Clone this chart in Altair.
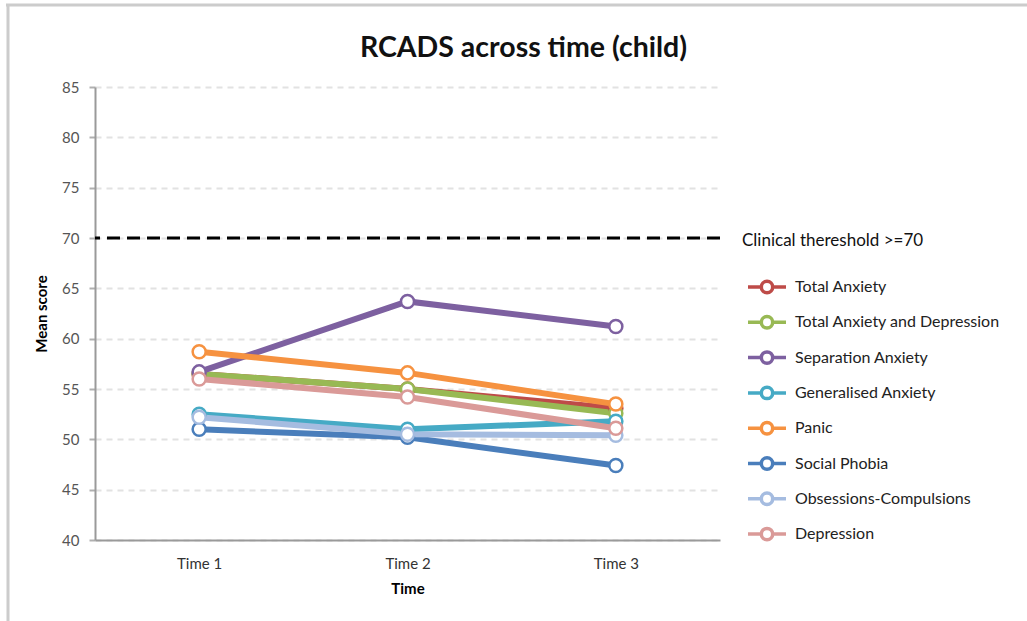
import altair as alt
import pandas as pd

# Time points and RCADS subscale means (child report)
times = ["Time 1", "Time 2", "Time 3"]
series = [
    "Total Anxiety",
    "Total Anxiety and Depression",
    "Separation Anxiety",
    "Generalised Anxiety",
    "Panic",
    "Social Phobia",
    "Obsessions-Compulsions",
    "Depression",
]
total_anxiety = [56.5, 55.0, 53.1]
total_anx_dep = [56.5, 55.0, 52.6]
separation_anxiety = [56.7, 63.7, 61.2]
generalised_anxiety = [52.5, 51.0, 51.8]
panic = [58.7, 56.6, 53.5]
social_phobia = [51.0, 50.2, 47.4]
obsessions_compulsions = [52.2, 50.5, 50.4]
depression = [56.0, 54.2, 51.1]
threshold = 70

colors = ["#BE4B48", "#98B954", "#7D60A0", "#46AAC5",
          "#F69240", "#4A7EBB", "#A5BCE0", "#DA9A98"]

values = [total_anxiety, total_anx_dep, separation_anxiety, generalised_anxiety,
          panic, social_phobia, obsessions_compulsions, depression]

rows = []
for name, vals in zip(series, values):
    for t, v in zip(times, vals):
        rows.append({"series": name, "time": t, "score": v})
df = pd.DataFrame(rows)

FONT = "Lato"

# line + open circle legend glyph
glyph = ("M-1,0 L-0.3,0 M0.3,0 L1,0 "
         "M-0.3,0 A0.3,0.3 0 1,0 0.3,0 A0.3,0.3 0 1,0 -0.3,0 Z")

x_enc = alt.X("time:N", sort=times,
              scale=alt.Scale(paddingInner=0, paddingOuter=0),
              axis=alt.Axis(title="Time", labelAngle=0, ticks=False,
                            domainColor="#9a9a9a", domainWidth=2,
                            labelFontSize=15, labelColor="#333333",
                            labelPadding=16, titleFontSize=15,
                            titleFontWeight="bold", titlePadding=10))
y_enc = alt.Y("score:Q",
              scale=alt.Scale(domain=[40, 85], nice=False, zero=False),
              axis=alt.Axis(title="Mean score", values=list(range(40, 90, 5)),
                            grid=True, gridDash=[6, 5], gridColor="#e2e2e2",
                            gridWidth=2, domainColor="#9a9a9a", domainWidth=2,
                            tickColor="#b0b0b0", tickSize=6, tickWidth=2,
                            labelFontSize=15, labelColor="#555555",
                            labelPadding=10, titleFontSize=15,
                            titleFontWeight="bold", titlePadding=12))
color_enc = alt.Color("series:N", sort=series,
                      scale=alt.Scale(domain=series, range=colors),
                      legend=alt.Legend(
                          title="Clinical thereshold >=70", orient="none",
                          legendX=647, legendY=146,
                          titleFontSize=17, titleFontWeight="normal",
                          titleColor="#111111", titlePadding=16,
                          titleLimit=400,
                          labelFontSize=16, labelColor="#222222",
                          labelOffset=7, symbolType=glyph, symbolSize=1444,
                          symbolFillColor="white", symbolStrokeWidth=3.5,
                          symbolOffset=4, rowPadding=1.3, labelLimit=300))

lines = alt.Chart(df).mark_line(strokeWidth=6).encode(
    x=x_enc, y=y_enc, color=color_enc, detail="series:N")
points = alt.Chart(df).mark_point(filled=True, fill="white", size=170,
                                  strokeWidth=2.5, opacity=1).encode(
    x=alt.X("time:N", sort=times), y="score:Q",
    stroke=alt.Stroke("series:N", sort=series,
                      scale=alt.Scale(domain=series, range=colors),
                      legend=None))

thr = alt.Chart(pd.DataFrame({"y": [threshold]})).mark_rule(
    color="black", strokeWidth=3, strokeDash=[13, 7]).encode(y="y:Q")

frame = pd.DataFrame({"k": [0]})
frame_top = alt.Chart(frame).mark_rule(color="#cccccc", strokeWidth=3).encode(
    x=alt.value(-89), x2=alt.value(940), y=alt.value(-82))
frame_left = alt.Chart(frame).mark_rule(color="#cccccc", strokeWidth=3).encode(
    x=alt.value(-87), y=alt.value(-83), y2=alt.value(540))

chart = alt.layer(frame_top, frame_left, lines, thr, points).properties(
    width=625, height=453,
    title=alt.Title("RCADS across time (child)", fontSize=28.5,
                    fontWeight="bold", font=FONT, color="#111111",
                    anchor="middle", dx=116, dy=60, offset=0),
    autosize=alt.AutoSizeParams(type="none"),
    padding={"left": 95, "top": 87, "right": 307, "bottom": 81},
).configure(font=FONT).configure_view(stroke=None)

chart.save("out.html", embed_options={"renderer": "svg", "actions": False})
